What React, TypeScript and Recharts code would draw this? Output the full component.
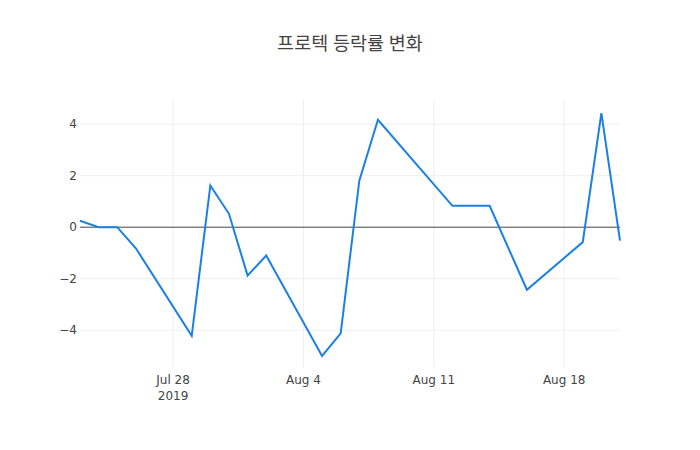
import React from "react";
import {
  Line,
  LineChart,
  ReferenceLine,
  XAxis,
  YAxis,
} from "recharts";

// trading days (2019) and the daily change in %
const dates = [
  "2019-07-23", "2019-07-24", "2019-07-25", "2019-07-26",
  "2019-07-29", "2019-07-30", "2019-07-31", "2019-08-01", "2019-08-02",
  "2019-08-05", "2019-08-06", "2019-08-07", "2019-08-08",
  "2019-08-12", "2019-08-13", "2019-08-14", "2019-08-16",
  "2019-08-19", "2019-08-20", "2019-08-21",
];
const changes = [
  0.25, 0, 0, -0.82,
  -4.22, 1.62, 0.52, -1.88, -1.1,
  -5.0, -4.12, 1.81, 4.17,
  0.83, 0.83, 0.83, -2.43,
  -0.58, 4.43, -0.52,
];
const xTickDates = ["2019-07-28", "2019-08-04", "2019-08-11", "2019-08-18"];
const xTickLabels = ["Jul 28", "Aug 4", "Aug 11", "Aug 18"];
const yTicks = [-4, -2, 0, 2, 4];

const toTime = (d: string) => Date.parse(d + "T00:00:00Z");

const data = dates.map((d, i) => ({ t: toTime(d), v: changes[i] }));
const xTicks = xTickDates.map(toTime);

const TICK_FONT = '"DejaVu Sans", sans-serif';
const TITLE_FONT = '"Open Sans", "Noto Sans CJK KR", sans-serif';

function DateTick(props: any) {
  const { x, y, payload } = props;
  const idx = xTicks.indexOf(payload.value);
  const label = idx >= 0 ? xTickLabels[idx] : "";
  return (
    <g transform={`translate(${x},${y})`}>
      <text textAnchor="middle" fill="#444" fontSize={12} fontFamily={TICK_FONT} y={9}>
        {label}
      </text>
      {idx === 0 && (
        <text textAnchor="middle" fill="#444" fontSize={12} fontFamily={TICK_FONT} y={25}>
          2019
        </text>
      )}
    </g>
  );
}

export default function App() {
  return (
    <div style={{ position: "absolute", left: 0, top: 0, width: 700, height: 450, background: "#fff" }}>
      <div
        style={{
          position: "absolute",
          top: 29,
          width: 700,
          textAlign: "center",
          fontFamily: TITLE_FONT,
          fontSize: 18.5,
          color: "#444",
        }}
      >
        프로텍 등락률 변화
      </div>
      <LineChart
        width={700}
        height={450}
        data={data}
        margin={{ top: 100, right: 80, bottom: 53, left: 30 }}
      >
        <XAxis
          dataKey="t"
          type="number"
          scale="time"
          domain={[toTime("2019-07-23"), toTime("2019-08-21")]}
          ticks={xTicks}
          tick={<DateTick />}
          axisLine={false}
          tickLine={false}
          height={30}
          interval={0}
        />
        <YAxis
          type="number"
          domain={[-5.43, 4.94]}
          ticks={yTicks}
          tickFormatter={(v: number) => String(v).replace("-", "\u2212")}
          tick={{ fill: "#444", fontSize: 12, fontFamily: TICK_FONT }}
          axisLine={false}
          tickLine={false}
          tickSize={0}
          tickMargin={3}
          width={50}
          allowDataOverflow
        />
        {/* grid drawn as reference lines so the plot edges stay open */}
        {xTicks.map((t) => (
          <ReferenceLine key={"gx" + t} x={t} stroke="#eee" strokeWidth={1} />
        ))}
        {yTicks
          .filter((v) => v !== 0)
          .map((v) => (
            <ReferenceLine key={"gy" + v} y={v} stroke="#eee" strokeWidth={1} />
          ))}
        <ReferenceLine y={0} stroke="#444" strokeWidth={1} />
        <Line
          type="linear"
          dataKey="v"
          stroke="#1a80e5"
          strokeWidth={2}
          dot={false}
          isAnimationActive={false}
        />
      </LineChart>
    </div>
  );
}
